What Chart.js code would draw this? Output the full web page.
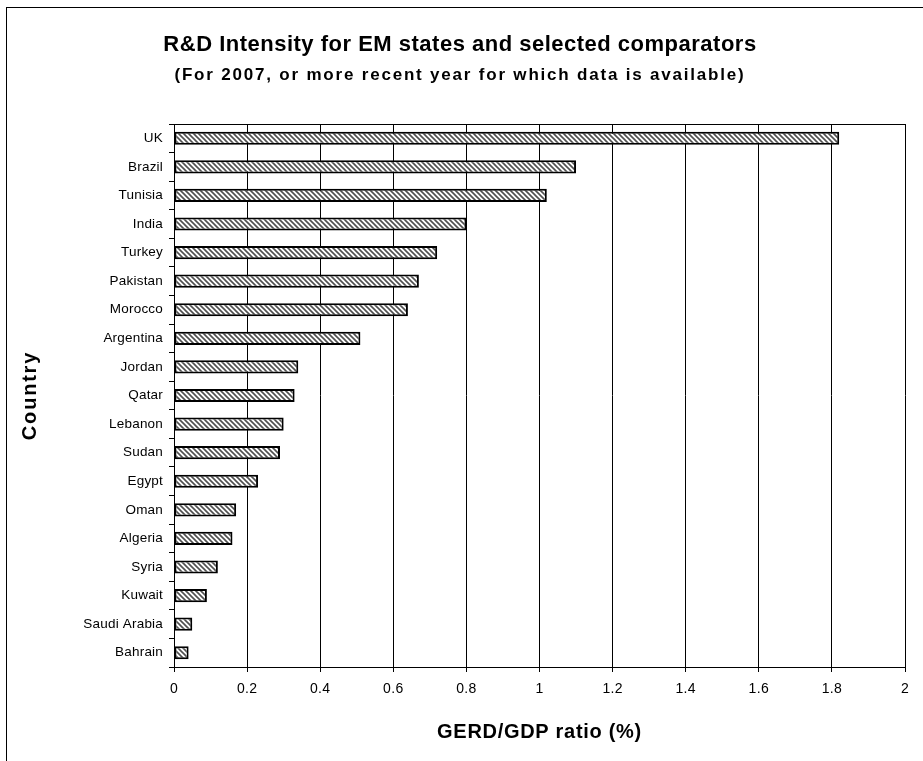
<!DOCTYPE html>
<html>
<head>
<meta charset="utf-8">
<title>R&amp;D Intensity for EM states and selected comparators</title>
<script src="https://cdn.jsdelivr.net/npm/chart.js@4/dist/chart.umd.min.js"></script>
<style>
  html, body { margin: 0; padding: 0; background: #fff; }
  canvas { display: block; }
</style>
</head>
<body>
<canvas id="chart" width="923" height="761"></canvas>
<script>
// Countries, top to bottom
const categories = ['UK', 'Brazil', 'Tunisia', 'India', 'Turkey', 'Pakistan', 'Morocco', 'Argentina',
  'Jordan', 'Qatar', 'Lebanon', 'Sudan', 'Egypt', 'Oman', 'Algeria', 'Syria', 'Kuwait',
  'Saudi Arabia', 'Bahrain'];

// GERD/GDP ratio (%)
const gerdGdp = [1.82, 1.10, 1.02, 0.80, 0.72, 0.67, 0.64, 0.51,
  0.34, 0.33, 0.30, 0.29, 0.23, 0.17, 0.16, 0.12, 0.09,
  0.05, 0.04];

// Value axis
const xMin = 0;
const xMax = 2;
const xStep = 0.2;

const titleText = 'R&D Intensity for EM states and selected comparators';
const subtitleText = '(For 2007, or more recent year for which data is available)';
const xTitle = 'GERD/GDP ratio (%)';
const yTitle = 'Country';

const FONT = "'Liberation Sans', Arial, Helvetica, sans-serif";
Chart.defaults.font.family = FONT;
Chart.defaults.color = '#000';

// Back-slash hatch fill for the bars
function makeHatch() {
  const s = 5;
  const c = document.createElement('canvas');
  c.width = s; c.height = s;
  const g = c.getContext('2d');
  g.fillStyle = '#ffffff';
  g.fillRect(0, 0, s, s);
  g.strokeStyle = '#505050';
  g.lineWidth = 1.6;
  g.beginPath();
  g.moveTo(-1, -1); g.lineTo(s + 1, s + 1);
  g.moveTo(-1, s - 1); g.lineTo(1, s + 1);
  g.moveTo(s - 1, -1); g.lineTo(s + 1, 1);
  g.stroke();
  return g.createPattern(c, 'repeat');
}

const LEFT_PAD = 15;
const Y_AXIS_WIDTH = 174;
const X_AXIS_HEIGHT = 94;

// Tracking (px) applied to each text block
const SPACING = { title: 0.5, subtitle: 1.8, xLabels: 0.3, yLabels: 0.2, xTitle: 0.7, yTitle: 1.8 };

function withSpacing(obj, method, px) {
  if (!obj || obj['__spaced_' + method]) return;
  const orig = obj[method];
  obj[method] = function (...args) {
    const ctx = this.ctx;
    const prev = ctx.letterSpacing;
    ctx.letterSpacing = px + 'px';
    try { return orig.apply(this, args); } finally { ctx.letterSpacing = prev; }
  };
  obj['__spaced_' + method] = true;
}

// White page, outer frame, text tracking and plot outline
const framePlugin = {
  id: 'frame',
  beforeDraw(chart) {
    withSpacing(chart.titleBlock, 'draw', SPACING.title);
    const sub = chart.boxes.find(b => b.options && b.options.text === subtitleText);
    withSpacing(sub, 'draw', SPACING.subtitle);
    withSpacing(chart.scales.x, 'drawLabels', SPACING.xLabels);
    withSpacing(chart.scales.x, 'drawTitle', SPACING.xTitle);
    withSpacing(chart.scales.y, 'drawLabels', SPACING.yLabels);
    withSpacing(chart.scales.y, 'drawTitle', SPACING.yTitle);

    const ctx = chart.ctx;
    ctx.save();
    ctx.fillStyle = '#fff';
    ctx.fillRect(0, 0, chart.width, chart.height);
    ctx.strokeStyle = '#000';
    ctx.lineWidth = 1;
    ctx.strokeRect(6.5, 7.5, chart.width + 50, chart.height + 50);
    ctx.restore();
  },
  afterDatasetsDraw(chart) {
    const a = chart.chartArea;
    const ctx = chart.ctx;
    ctx.save();
    ctx.strokeStyle = '#000';
    ctx.lineWidth = 1;
    ctx.beginPath();
    ctx.moveTo(Math.round(a.left) + 0.5, Math.round(a.top) + 0.5);
    ctx.lineTo(Math.round(a.right) + 0.5, Math.round(a.top) + 0.5);
    ctx.stroke();
    ctx.restore();
  }
};

new Chart(document.getElementById('chart'), {
  type: 'bar',
  data: {
    labels: categories,
    datasets: [{
      label: xTitle,
      data: gerdGdp,
      backgroundColor: makeHatch(),
      borderColor: '#000',
      borderWidth: 2,
      borderSkipped: false,
      barPercentage: 0.46,
      categoryPercentage: 1.0
    }]
  },
  options: {
    indexAxis: 'y',
    responsive: false,
    animation: false,
    devicePixelRatio: 1,
    layout: { padding: { top: 32, right: 18, bottom: 0, left: LEFT_PAD } },
    plugins: {
      legend: { display: false },
      tooltip: { enabled: false },
      title: {
        display: true,
        text: titleText,
        font: { size: 22, weight: 'bold' },
        padding: { top: 0, bottom: 4 }
      },
      subtitle: {
        display: true,
        text: subtitleText,
        font: { size: 17, weight: 'bold' },
        padding: { top: 2.4, bottom: 38.8 }
      }
    },
    scales: {
      x: {
        type: 'linear',
        min: xMin,
        max: xMax,
        afterFit(scale) { scale.height = X_AXIS_HEIGHT; },
        ticks: {
          stepSize: xStep,
          padding: 8.5,
          font: { size: 14 },
          callback: (v) => String(Number(v.toFixed(1)))
        },
        grid: { color: '#000', lineWidth: 1, tickLength: 5, drawTicks: true },
        border: { display: true, color: '#000', width: 1 },
        title: {
          display: true,
          text: xTitle,
          font: { size: 20, weight: 'bold' },
          padding: { top: 0, bottom: 17 }
        }
      },
      y: {
        type: 'category',
        offset: true,
        afterFit(scale) { scale.width = Y_AXIS_WIDTH - LEFT_PAD; },
        ticks: { padding: 6, font: { size: 13.5 } },
        grid: { offset: true, drawOnChartArea: false, color: '#000', tickLength: 5 },
        border: { display: true, color: '#000', width: 1 },
        title: {
          display: true,
          text: yTitle,
          font: { size: 20, weight: 'bold' },
          padding: { top: 3, bottom: 0 }
        }
      }
    }
  },
  plugins: [framePlugin]
});
</script>
</body>
</html>
